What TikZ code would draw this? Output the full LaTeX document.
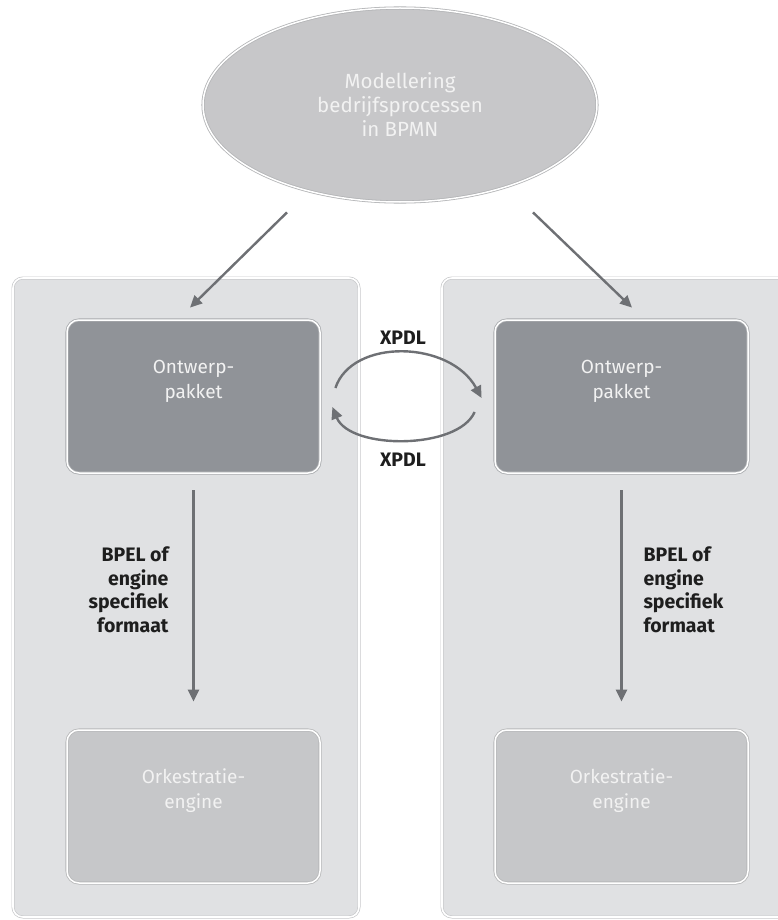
\documentclass[tikz,border=0pt]{standalone}
\usepackage{fontspec}
\setmainfont{Fira Sans}
\usetikzlibrary{arrows.meta,shapes.geometric}

\definecolor{panelfill}{HTML}{E0E1E3}
\definecolor{panelline}{HTML}{C8C9CB}
\definecolor{darkbox}{HTML}{909398}
\definecolor{darkline}{HTML}{A9ABAE}
\definecolor{lightbox}{HTML}{C6C7C9}
\definecolor{ellfill}{HTML}{C7C7C9}
\definecolor{ellline}{HTML}{B3B4B6}
\definecolor{arrowgray}{HTML}{6E7074}
\definecolor{labelink}{HTML}{1E1E1E}
\definecolor{boxtext}{HTML}{F2F2F2}

\tikzset{
  panel/.style={draw=panelline, double=white, double distance=1.6pt, line width=0.7pt,
    fill=panelfill, rounded corners=10pt, inner sep=0pt,
    minimum width=346pt, minimum height=639pt},
  designbox/.style={draw=darkline, double=white, double distance=1.5pt, line width=0.8pt,
    fill=darkbox, rounded corners=12pt, inner sep=0pt,
    minimum width=253pt, minimum height=153pt},
  enginebox/.style={draw=lightbox!80!gray, double=white, double distance=1.5pt, line width=0.8pt,
    fill=lightbox, rounded corners=12pt, inner sep=0pt,
    minimum width=253pt, minimum height=153pt},
  boxlabel/.style={text=boxtext, align=center, font=\fontsize{19}{25}\selectfont},
  flowlabel/.style={text=labelink, font=\bfseries\fontsize{19.5}{23.5}\selectfont},
  arr/.style={draw=arrowgray, line width=2.4pt, -{Triangle[length=12pt,width=11pt]}},
}

\begin{document}
\begin{tikzpicture}[x=1pt,y=-1pt]
\useasboundingbox (0,0) rectangle (778,920);
\fill[white] (0,0) rectangle (778,920);

% two environment panels
\node[panel] (panelL) at (186,597.5) {};
\node[panel] (panelR) at (615,597.5) {};

% process modelling
\node[ellipse, draw=ellline, double=white, double distance=1.5pt, line width=0.8pt,
      fill=ellfill, inner sep=0pt, minimum width=394pt, minimum height=194pt,
      boxlabel, font=\fontsize{20.5}{24}\selectfont] (model) at (400,105)
      {Modellering\\bedrijfsprocessen\\in BPMN};

% design packages
\node[designbox] (ontL) at (193.5,396.5) {};
\node[designbox] (ontR) at (621.5,396.5) {};
\node[boxlabel] (ontLtxt) at ([yshift=15pt]ontL.center) {Ontwerp-\\pakket};
\node[boxlabel] (ontRtxt) at ([yshift=15pt]ontR.center) {Ontwerp-\\pakket};

% orchestration engines
\node[enginebox] (orkL) at (193.5,806.5) {};
\node[enginebox] (orkR) at (621.5,806.5) {};
\node[boxlabel] (orkLtxt) at ([yshift=16pt]orkL.center) {Orkestratie-\\engine};
\node[boxlabel] (orkRtxt) at ([yshift=16pt]orkR.center) {Orkestratie-\\engine};

% from the model to both design packages
\draw[arr] ([shift={(-113,10)}]model.south) -- ([shift={(-3.5,-12)}]ontL.north);
\draw[arr] ([shift={(133,10)}]model.south) -- ([shift={(10.5,-12)}]ontR.north);

% XPDL exchange between the design packages
\draw[arr] ([shift={(15,-8.5)}]ontL.east) .. controls (352,338) and (450,340) .. ([shift={(-13,1.5)}]ontR.west);
\draw[arr] ([shift={(-20,15.5)}]ontR.west) .. controls (458,450) and (350,450) .. ([shift={(12,10.5)}]ontL.east);
\node[flowlabel] (xpdlTop) at (403,338) {XPDL};
\node[flowlabel] (xpdlBot) at (403,460) {XPDL};

% deployment to the engines
\draw[arr, shorten <=17pt, shorten >=28pt] (ontL.south) -- (orkL.north);
\draw[arr, shorten <=17pt, shorten >=28pt] (ontR.south) -- (orkR.north);
\node[flowlabel, align=right, anchor=east] (bpelL) at (172,590)
  {BPEL of\\engine\\specifiek\\formaat};
\node[flowlabel, align=left, anchor=west] (bpelR) at (640,590)
  {BPEL of\\engine\\specifiek\\formaat};
\end{tikzpicture}
\end{document}
